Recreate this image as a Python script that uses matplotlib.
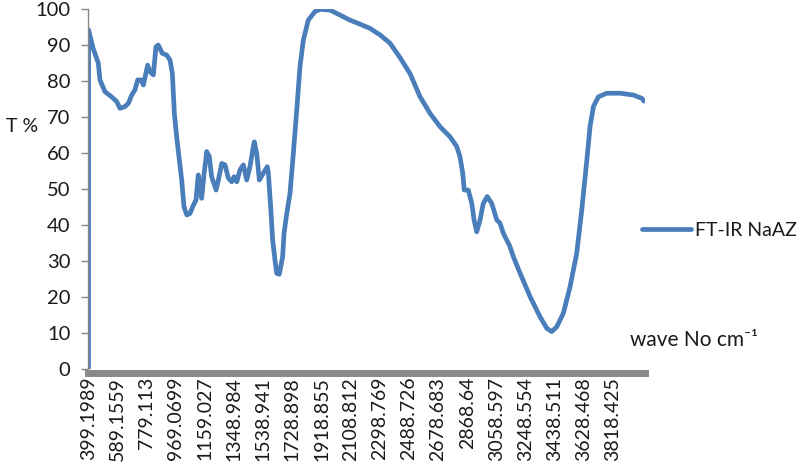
import matplotlib
matplotlib.use("Agg")

import matplotlib.pyplot as plt

# FT-IR spectrum (wavenumber cm-1, transmittance %)
wavenumber = [399.2, 400, 430, 463, 474, 507, 550, 583, 605, 637, 659, 681, 702, 720,
              742, 757, 785, 800, 822, 839, 854, 880, 909, 931, 946, 959, 974, 989,
              1007, 1022, 1040, 1061, 1083, 1100, 1115, 1126, 1137, 1152, 1170, 1187,
              1202, 1231, 1246, 1268, 1289, 1311, 1333, 1348, 1366, 1387, 1409, 1431,
              1452, 1470, 1480, 1496, 1513, 1539, 1565, 1572, 1587, 1600, 1615, 1626,
              1643, 1665, 1674, 1692, 1713, 1735, 1757, 1778, 1800, 1832, 1876, 1909,
              1974, 2039, 2104, 2169, 2235, 2300, 2365, 2430, 2495, 2561, 2626, 2691,
              2756, 2800, 2821, 2839, 2849, 2875, 2898, 2913, 2930, 2952, 2973, 2999,
              3028, 3061, 3082, 3104, 3147, 3169, 3213, 3278, 3343, 3387, 3419, 3452,
              3495, 3539, 3582, 3615, 3648, 3669, 3691, 3723, 3778, 3865, 3951, 4006,
              4021]
transmittance = [0, 94.2, 89, 85, 80.3, 77, 75.6, 74.3, 72.4, 72.9, 73.8, 76.1, 77.5, 80.3,
                 80.3, 78.9, 84.4, 82.6, 81.7, 89.5, 90, 87.7, 87.2, 85.8, 82.1, 71, 64.5, 59,
                 52.5, 45, 42.8, 43.2, 45.5, 46.9, 53.9, 50.6, 47.4, 53.9, 60.4, 59,
                 53.4, 49.7, 52.5, 57.1, 56.7, 53, 52, 53.4, 52, 55.3, 56.7, 52.5,
                 56.2, 60.8, 63.1, 59.9, 52.5, 54.4, 56.2, 54.4, 45, 35.8, 30.3, 26.6,
                 26.3, 31.2, 37.7, 43.2, 48.8, 60, 72, 84, 91.4, 96.9, 99.3, 99.9,
                 99.7, 98.3, 96.9, 95.8, 94.6, 92.8, 90.5, 86.5, 82.1, 75.6, 71, 67.3,
                 64.5, 61.8, 59, 54.4, 49.7, 49.7, 46, 41.4, 38.1, 41.4, 46, 47.9,
                 46, 41.4, 40.5, 37.7, 34, 31.2, 26.6, 20.1, 14.5, 11.3, 10.4, 11.7,
                 15.5, 22.9, 32.1, 44.2, 58, 67.3, 72.9, 75.6, 76.6, 76.6, 76.1, 75.2,
                 74.4]

tick_labels = ["399.1989", "589.1559", "779.113", "969.0699", "1159.027", "1348.984",
               "1538.941", "1728.898", "1918.855", "2108.812", "2298.769", "2488.726",
               "2678.683", "2868.64", "3058.597", "3248.554", "3438.511", "3628.468",
               "3818.425"]
tick_values = [float(t) for t in tick_labels]

plt.rcParams['font.family'] = ['Lato', 'DejaVu Sans']
text_color = '#1a1a1a'

fig = plt.figure(figsize=(8, 4.73), dpi=100)
ax = fig.add_axes([0.1106, 0.2199, 0.6956, 0.7611])

ax.plot(wavenumber, transmittance, color='#4a7ebb', lw=3.4, label='FT-IR NaAZ',
        solid_joinstyle='round', solid_capstyle='round')

ax.set_xlim(399.2, 4027)
ax.set_ylim(0, 100)
ax.set_yticks(range(0, 101, 10))
ax.set_xticks(tick_values)
ax.set_xticklabels(tick_labels)
ax.tick_params(axis='x', length=0, pad=3, labelrotation=90, labelsize=14,
               labelcolor=text_color)
ax.tick_params(axis='y', length=5, width=1, color='#888888', pad=8,
               labelsize=14.5, labelcolor=text_color)

for side in ['top', 'right']:
    ax.spines[side].set_visible(False)
ax.spines['left'].set_color('#888888')
ax.spines['left'].set_linewidth(1)
ax.spines['bottom'].set_color('#898989')
ax.spines['bottom'].set_linewidth(5)
ax.spines['bottom'].set_position(('outward', 2.6))

ax.legend(loc='center left', bbox_to_anchor=(642 / 800, 1 - 230 / 473),
          bbox_transform=fig.transFigure, frameon=False, fontsize=14,
          handlelength=2.5, handletextpad=0.25, borderpad=0, borderaxespad=0,
          labelcolor=text_color)

fig.text(22 / 800, 1 - 127 / 473, 'T %', ha='center', va='center', fontsize=14,
         color=text_color)
fig.text(630 / 800, 1 - 340 / 473, 'wave No cm\u207b\u00b9', ha='left', va='center',
         fontsize=15, color=text_color)

fig.savefig('out.png', dpi=100)
